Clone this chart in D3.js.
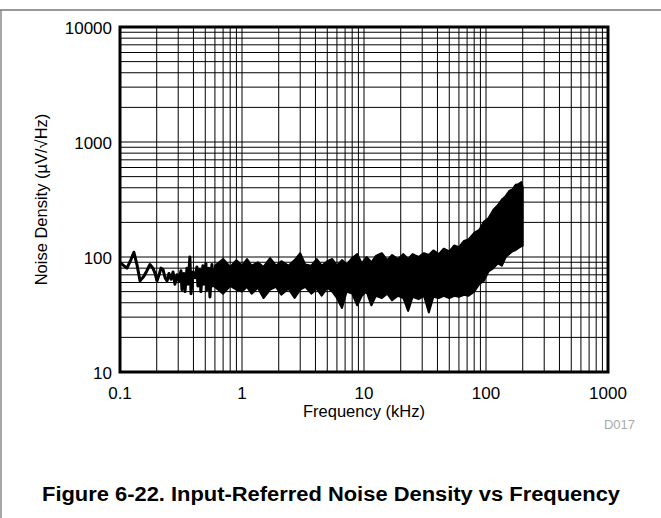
<!DOCTYPE html>
<html>
<head>
<meta charset="utf-8">
<script src="https://cdn.jsdelivr.net/npm/d3@7/dist/d3.min.js"></script>
<style>
body { margin: 0; background: #fff; }
svg { display: block; font-family: "Liberation Sans", Arial, sans-serif; }
</style>
</head>
<body>
<svg width="661" height="518"></svg>
<script>
// low frequency part of the trace (kHz, uV/rtHz)
var traceF = [0.1, 0.106, 0.114, 0.123, 0.130, 0.138, 0.146, 0.157, 0.166, 0.176, 0.186, 0.194,
  0.201, 0.209, 0.217, 0.225, 0.234, 0.243, 0.252, 0.262, 0.272, 0.282, 0.293, 0.304, 0.316,
  0.322, 0.334, 0.341, 0.354, 0.361, 0.374, 0.382, 0.396, 0.411, 0.427, 0.435, 0.452, 0.460,
  0.478, 0.487, 0.506, 0.515, 0.535, 0.546, 0.567, 0.578, 0.6];
var traceV = [90, 85, 80, 95, 110, 85, 62, 68, 76, 86, 80, 72,
  62, 70, 80, 78, 66, 62, 72, 64, 74, 58, 70, 62, 76,
  52, 72, 50, 80, 58, 100, 48, 74, 66, 82, 56, 78, 50,
  84, 58, 88, 52, 80, 45, 86, 56, 80];

// dense part: upper / lower envelope of the noise band
var bandF = [0.6, 0.7, 0.8, 0.9, 1.0, 1.1, 1.2, 1.35, 1.5, 1.7, 1.9, 2.1, 2.4, 2.7, 3.0, 3.3,
  3.7, 4.1, 4.5, 5.0, 5.5, 6.0, 6.6, 7.2, 8, 8.8, 9.6, 10.5, 11.5, 12.5, 14, 15.5, 17, 19, 21,
  23, 25, 28, 31, 34, 37, 41, 45, 50, 55, 60, 66, 72, 80, 88, 96, 105, 115, 125, 135, 145,
  155, 165, 175, 185, 195, 200];
var bandHi = [84, 96, 82, 94, 84, 96, 84, 90, 82, 98, 84, 92, 84, 94, 108, 86,
  84, 96, 84, 92, 96, 84, 94, 86, 98, 106, 88, 100, 90, 102, 108, 94, 104, 96, 106,
  96, 106, 100, 108, 104, 114, 106, 118, 112, 126, 122, 138, 142, 162, 172, 202, 218, 258, 282, 316, 338,
  375, 388, 425, 430, 448, 400];
var bandLo = [55, 48, 56, 52, 50, 55, 48, 54, 44, 52, 55, 47, 53, 44, 52, 55,
  48, 53, 46, 54, 50, 44, 36, 50, 48, 38, 46, 50, 38, 46, 44, 48, 42, 46, 44,
  34, 45, 43, 46, 33, 45, 44, 46, 44, 46, 45, 47, 46, 50, 58, 62, 75, 80, 88, 84, 100,
  106, 112, 115, 120, 124, 125];

var xTicks = [0.1, 1, 10, 100, 1000];
var yTicks = [10, 100, 1000, 10000];

var svg = d3.select("svg");
var pl = 120, pr = 608, pt = 27, pb = 372;

var x = d3.scaleLog().domain([0.1, 1000]).range([pl, pr]);
var y = d3.scaleLog().domain([10, 10000]).range([pb, pt]);

// outer figure frame (top and left only)
svg.append("line").attr("x1", 0).attr("x2", 661).attr("y1", 10).attr("y2", 10)
  .attr("stroke", "#777").attr("stroke-width", 1.3);
svg.append("line").attr("x1", 1).attr("x2", 1).attr("y1", 10).attr("y2", 518)
  .attr("stroke", "#777").attr("stroke-width", 1.3);

// grid lines at every 1..9 of each decade
var xGrid = [], yGrid = [];
for (var d = -1; d < 3; d++) for (var k = 1; k < 10; k++) xGrid.push(k * Math.pow(10, d));
for (var e = 1; e < 4; e++) for (var m = 1; m < 10; m++) yGrid.push(m * Math.pow(10, e));

var grid = svg.append("g");
grid.selectAll(".vx").data(xGrid).enter().append("line")
  .attr("x1", (d) => x(d)).attr("x2", (d) => x(d))
  .attr("y1", pt).attr("y2", pb)
  .attr("stroke", "#000").attr("stroke-width", 1);
grid.selectAll(".hy").data(yGrid).enter().append("line")
  .attr("x1", pl).attr("x2", pr)
  .attr("y1", (d) => y(d)).attr("y2", (d) => y(d))
  .attr("stroke", "#000").attr("stroke-width", 1);

// noise band
var band = bandF.map((f, i) => ({f: f, hi: bandHi[i], lo: bandLo[i]}));
svg.append("path").datum(band)
  .attr("d", d3.area().x((d) => x(d.f)).y0((d) => y(d.lo)).y1((d) => y(d.hi)))
  .attr("fill", "#000").attr("stroke", "#000").attr("stroke-width", 2).attr("stroke-linejoin", "round");

var trace = traceF.map((f, i) => ({f: f, v: traceV[i]}));
svg.append("path").datum(trace)
  .attr("d", d3.line().x((d) => x(d.f)).y((d) => y(d.v)))
  .attr("fill", "none").attr("stroke", "#000").attr("stroke-width", 3).attr("stroke-linejoin", "round");

// plot border
svg.append("rect").attr("x", pl).attr("y", pt).attr("width", pr - pl).attr("height", pb - pt)
  .attr("fill", "none").attr("stroke", "#000").attr("stroke-width", 3);

// tick labels
svg.selectAll(".xt").data(xTicks).enter().append("text")
  .attr("x", (d) => x(d)).attr("y", 399)
  .attr("text-anchor", "middle").attr("font-size", 17)
  .text((d) => d);
svg.selectAll(".yt").data(yTicks).enter().append("text")
  .attr("x", 112).attr("y", (d) => y(d) + 6.5)
  .attr("text-anchor", "end").attr("font-size", 17)
  .text((d) => d);

// axis titles
svg.append("text").attr("x", 364).attr("y", 417).attr("text-anchor", "middle")
  .attr("font-size", 16.5).text("Frequency (kHz)");
svg.append("text")
  .attr("transform", "translate(47," + ((pt + pb) / 2) + ") rotate(-90)")
  .attr("text-anchor", "middle").attr("font-size", 16.5)
  .text("Noise Density (\u00b5V/\u221aHz)");

svg.append("text").attr("x", 635).attr("y", 429).attr("text-anchor", "end")
  .attr("font-size", 13).attr("fill", "#aaa").text("D017");

svg.append("text").attr("x", 331).attr("y", 501).attr("text-anchor", "middle")
  .attr("font-size", 20).attr("font-weight", "bold")
  .attr("textLength", 578).attr("lengthAdjust", "spacingAndGlyphs")
  .text("Figure 6-22. Input-Referred Noise Density vs Frequency");
</script>
</body>
</html>
